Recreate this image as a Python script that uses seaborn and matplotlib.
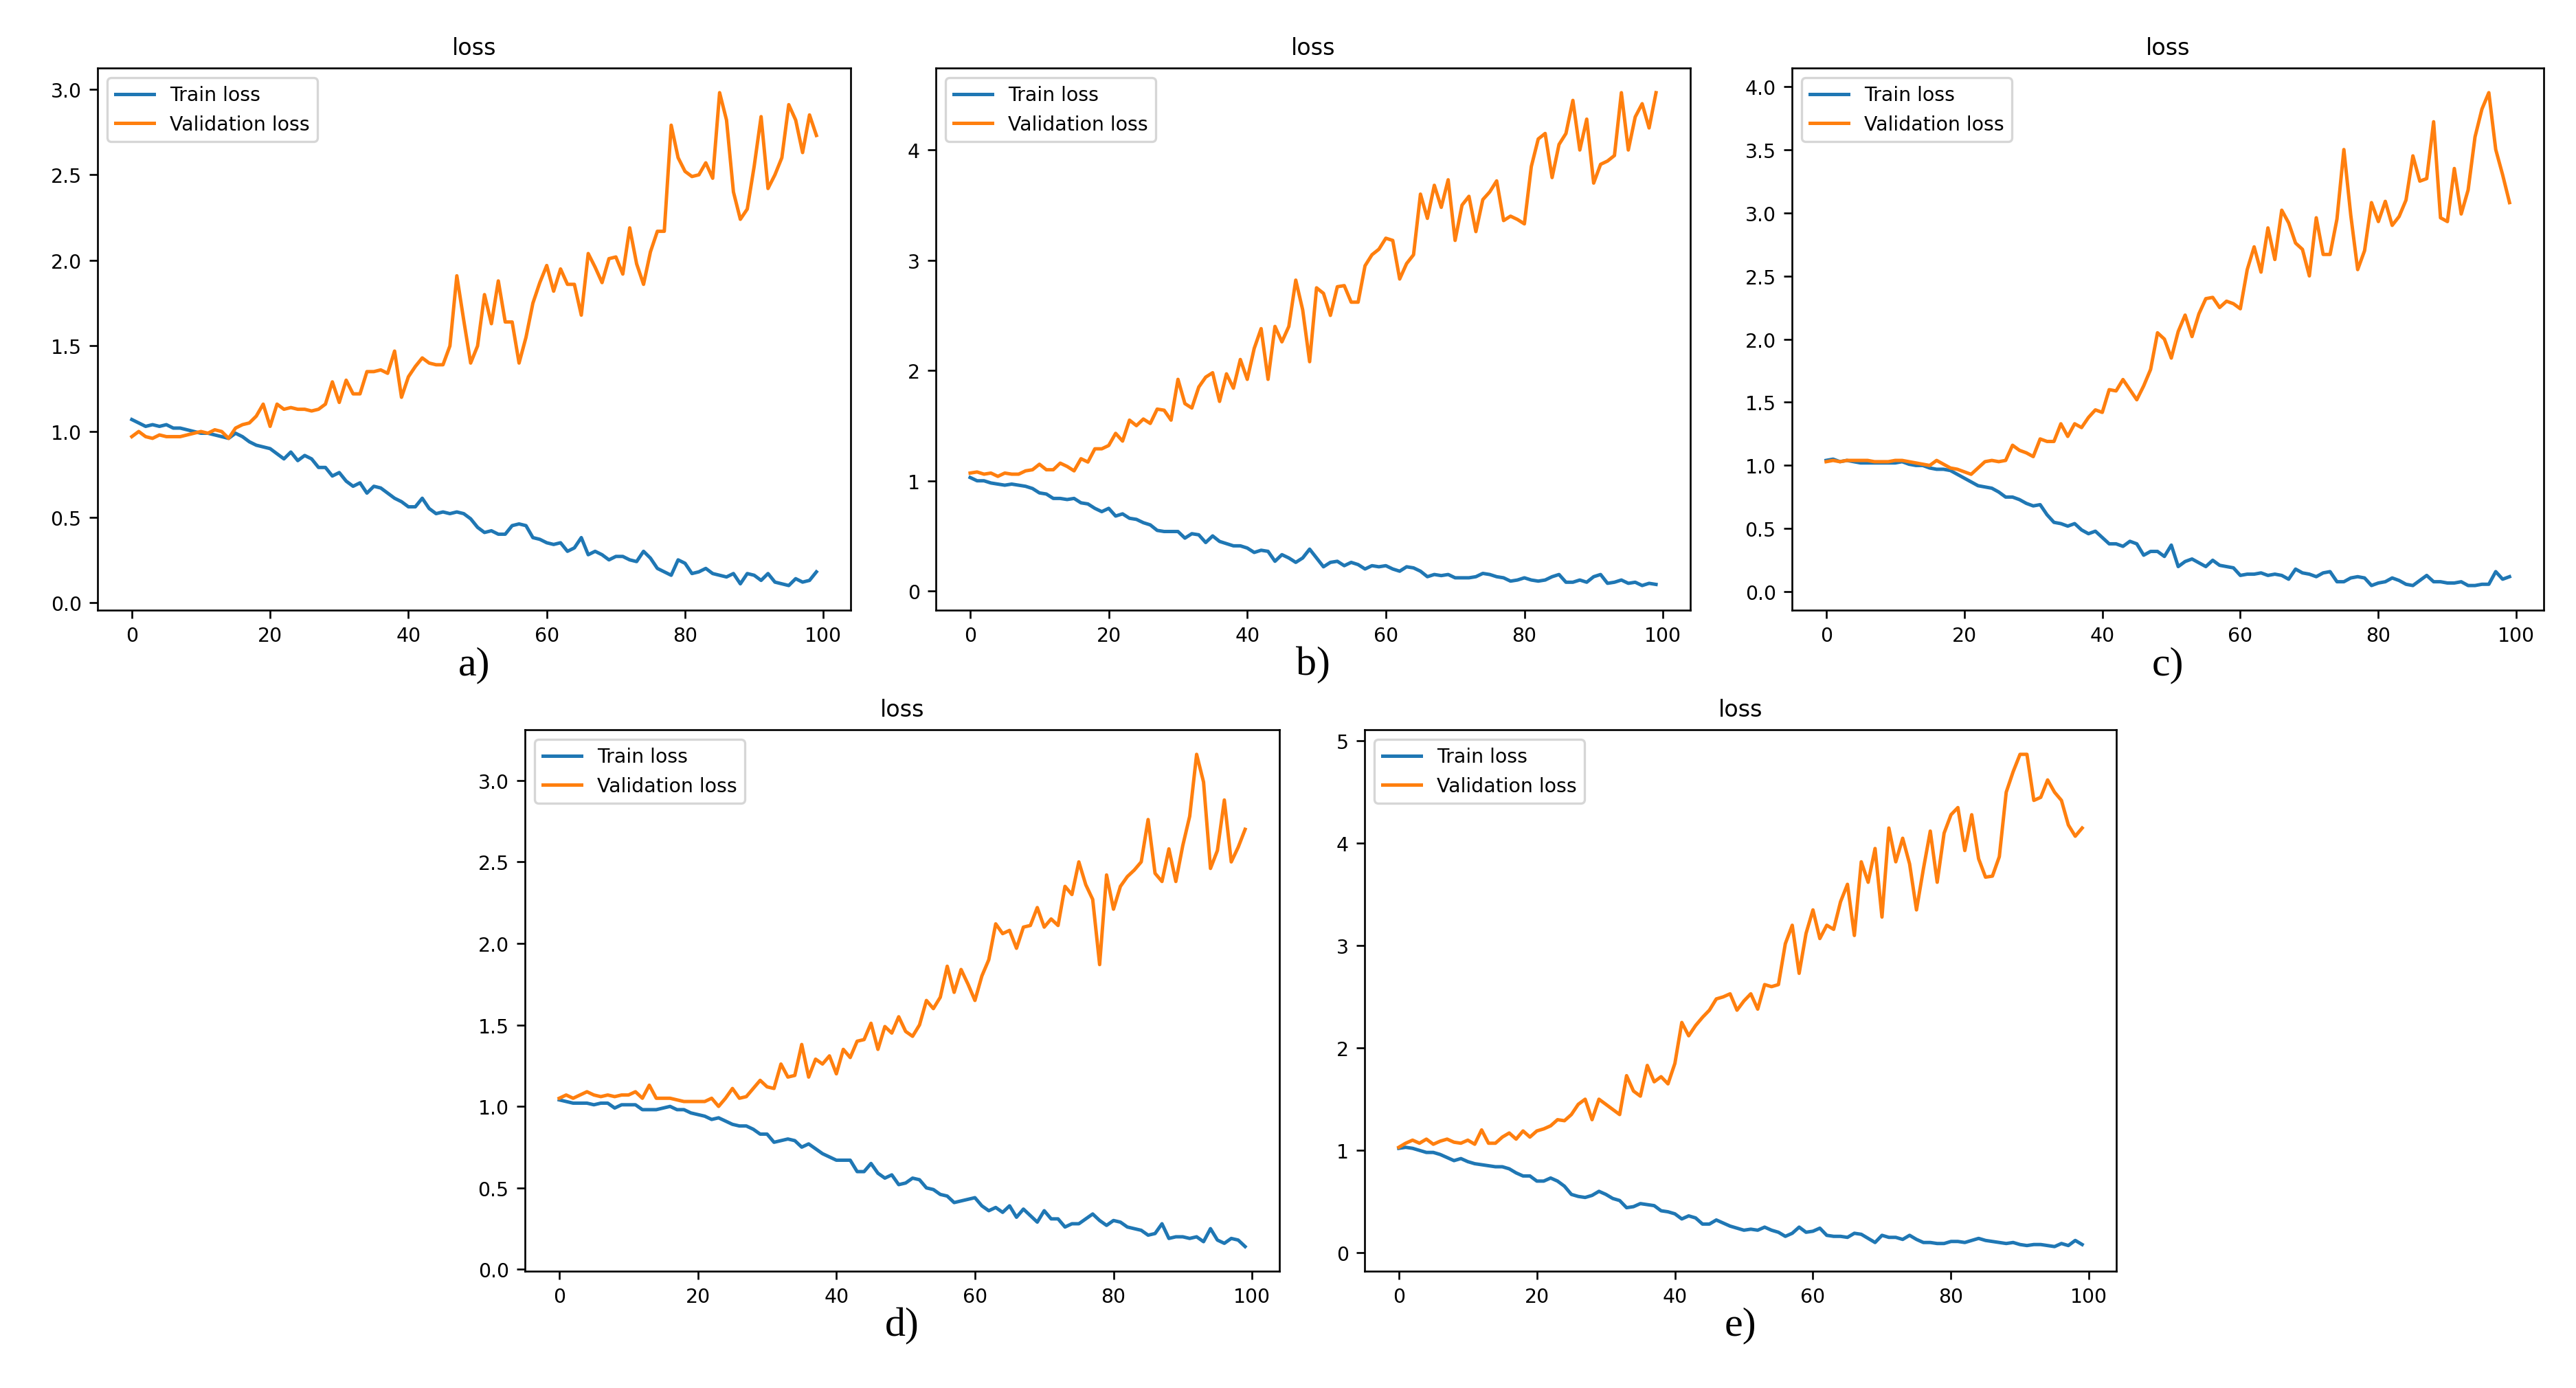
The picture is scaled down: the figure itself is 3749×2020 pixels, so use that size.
import numpy as np
import pandas as pd
import seaborn as sns
import matplotlib.pyplot as plt

# epochs 0..99 for every run
epochs = list(range(100))

# a)
train_a = [1.07, 1.05, 1.03, 1.04, 1.03, 1.04, 1.02, 1.02, 1.01, 1.00,
           0.99, 0.99, 0.98, 0.97, 0.96, 0.99, 0.97, 0.94, 0.92, 0.91,
           0.90, 0.87, 0.84, 0.88, 0.83, 0.86, 0.84, 0.79, 0.79, 0.74,
           0.76, 0.71, 0.68, 0.70, 0.64, 0.68, 0.67, 0.64, 0.61, 0.59,
           0.56, 0.56, 0.61, 0.55, 0.52, 0.53, 0.52, 0.53, 0.52, 0.49,
           0.44, 0.41, 0.42, 0.40, 0.40, 0.45, 0.46, 0.45, 0.38, 0.37,
           0.35, 0.34, 0.35, 0.30, 0.32, 0.38, 0.28, 0.30, 0.28, 0.25,
           0.27, 0.27, 0.25, 0.24, 0.30, 0.26, 0.20, 0.18, 0.16, 0.25,
           0.23, 0.17, 0.18, 0.20, 0.17, 0.16, 0.15, 0.17, 0.11, 0.17,
           0.16, 0.13, 0.17, 0.12, 0.11, 0.10, 0.14, 0.12, 0.13, 0.18]
val_a = [0.97, 1.00, 0.97, 0.96, 0.98, 0.97, 0.97, 0.97, 0.98, 0.99,
         1.00, 0.99, 1.01, 1.00, 0.96, 1.02, 1.04, 1.05, 1.09, 1.16,
         1.03, 1.16, 1.13, 1.14, 1.13, 1.13, 1.12, 1.13, 1.16, 1.29,
         1.17, 1.30, 1.22, 1.22, 1.35, 1.35, 1.36, 1.34, 1.47, 1.20,
         1.32, 1.38, 1.43, 1.40, 1.39, 1.39, 1.50, 1.91, 1.65, 1.40,
         1.50, 1.80, 1.63, 1.88, 1.64, 1.64, 1.40, 1.55, 1.75, 1.87,
         1.97, 1.82, 1.95, 1.86, 1.86, 1.68, 2.04, 1.96, 1.87, 2.01,
         2.02, 1.92, 2.19, 1.98, 1.86, 2.05, 2.17, 2.17, 2.79, 2.60,
         2.52, 2.49, 2.50, 2.57, 2.48, 2.98, 2.82, 2.40, 2.24, 2.30,
         2.55, 2.84, 2.42, 2.50, 2.60, 2.91, 2.82, 2.63, 2.85, 2.73]

# b)
train_b = [1.03, 1.00, 1.00, 0.98, 0.97, 0.96, 0.97, 0.96, 0.95, 0.93,
           0.89, 0.88, 0.84, 0.84, 0.83, 0.84, 0.80, 0.79, 0.75, 0.72,
           0.75, 0.68, 0.70, 0.66, 0.65, 0.62, 0.60, 0.55, 0.54, 0.54,
           0.54, 0.48, 0.52, 0.51, 0.44, 0.50, 0.45, 0.43, 0.41, 0.41,
           0.39, 0.35, 0.37, 0.36, 0.27, 0.33, 0.30, 0.26, 0.30, 0.38,
           0.30, 0.22, 0.26, 0.27, 0.23, 0.26, 0.24, 0.20, 0.23, 0.22,
           0.23, 0.20, 0.18, 0.22, 0.21, 0.18, 0.13, 0.15, 0.14, 0.15,
           0.12, 0.12, 0.12, 0.13, 0.16, 0.15, 0.13, 0.12, 0.09, 0.10,
           0.12, 0.10, 0.09, 0.10, 0.13, 0.15, 0.08, 0.08, 0.10, 0.08,
           0.13, 0.15, 0.07, 0.08, 0.10, 0.07, 0.08, 0.05, 0.07, 0.06]
val_b = [1.07, 1.08, 1.06, 1.07, 1.04, 1.07, 1.06, 1.06, 1.09, 1.10,
         1.15, 1.10, 1.10, 1.16, 1.13, 1.09, 1.20, 1.17, 1.29, 1.29,
         1.32, 1.43, 1.36, 1.55, 1.50, 1.56, 1.52, 1.65, 1.64, 1.55,
         1.92, 1.70, 1.66, 1.85, 1.94, 1.98, 1.72, 1.97, 1.84, 2.10,
         1.92, 2.20, 2.38, 1.92, 2.40, 2.26, 2.40, 2.82, 2.55, 2.08,
         2.75, 2.70, 2.50, 2.76, 2.77, 2.62, 2.62, 2.95, 3.05, 3.10,
         3.20, 3.18, 2.83, 2.97, 3.05, 3.60, 3.38, 3.68, 3.48, 3.73,
         3.18, 3.50, 3.58, 3.26, 3.55, 3.62, 3.72, 3.36, 3.40, 3.37,
         3.33, 3.85, 4.10, 4.15, 3.75, 4.05, 4.15, 4.45, 4.00, 4.28,
         3.70, 3.87, 3.90, 3.95, 4.52, 4.00, 4.30, 4.42, 4.20, 4.52]

# c)
train_c = [1.04, 1.05, 1.03, 1.04, 1.03, 1.02, 1.02, 1.02, 1.02, 1.02,
           1.02, 1.03, 1.01, 1.00, 1.00, 0.98, 0.97, 0.97, 0.96, 0.93,
           0.90, 0.87, 0.84, 0.83, 0.82, 0.79, 0.75, 0.75, 0.73, 0.70,
           0.68, 0.69, 0.61, 0.55, 0.54, 0.52, 0.54, 0.49, 0.46, 0.48,
           0.43, 0.38, 0.38, 0.36, 0.40, 0.38, 0.29, 0.32, 0.32, 0.28,
           0.37, 0.20, 0.24, 0.26, 0.23, 0.20, 0.25, 0.21, 0.20, 0.19,
           0.13, 0.14, 0.14, 0.15, 0.13, 0.14, 0.13, 0.10, 0.18, 0.15,
           0.14, 0.12, 0.15, 0.16, 0.08, 0.08, 0.11, 0.12, 0.11, 0.05,
           0.07, 0.08, 0.11, 0.09, 0.06, 0.05, 0.09, 0.13, 0.08, 0.08,
           0.07, 0.07, 0.08, 0.05, 0.05, 0.06, 0.06, 0.16, 0.10, 0.12]
val_c = [1.03, 1.04, 1.03, 1.04, 1.04, 1.04, 1.04, 1.03, 1.03, 1.03,
         1.04, 1.04, 1.03, 1.02, 1.01, 1.00, 1.04, 1.01, 0.98, 0.97,
         0.95, 0.93, 0.98, 1.03, 1.04, 1.03, 1.04, 1.16, 1.12, 1.10,
         1.07, 1.21, 1.19, 1.19, 1.33, 1.23, 1.33, 1.30, 1.38, 1.44,
         1.42, 1.60, 1.59, 1.68, 1.60, 1.52, 1.63, 1.76, 2.05, 2.00,
         1.85, 2.06, 2.19, 2.02, 2.20, 2.32, 2.33, 2.25, 2.30, 2.28,
         2.24, 2.55, 2.73, 2.53, 2.88, 2.63, 3.02, 2.92, 2.76, 2.71,
         2.50, 2.96, 2.67, 2.67, 2.95, 3.50, 2.98, 2.55, 2.70, 3.08,
         2.93, 3.09, 2.90, 2.97, 3.10, 3.45, 3.25, 3.27, 3.72, 2.96,
         2.93, 3.35, 2.99, 3.18, 3.60, 3.82, 3.95, 3.50, 3.30, 3.08]

# d)
train_d = [1.04, 1.03, 1.02, 1.02, 1.02, 1.01, 1.02, 1.02, 0.99, 1.01,
           1.01, 1.01, 0.98, 0.98, 0.98, 0.99, 1.00, 0.98, 0.98, 0.96,
           0.95, 0.94, 0.92, 0.93, 0.91, 0.89, 0.88, 0.88, 0.86, 0.83,
           0.83, 0.78, 0.79, 0.80, 0.79, 0.75, 0.77, 0.74, 0.71, 0.69,
           0.67, 0.67, 0.67, 0.60, 0.60, 0.65, 0.59, 0.56, 0.58, 0.52,
           0.53, 0.56, 0.55, 0.50, 0.49, 0.46, 0.45, 0.41, 0.42, 0.43,
           0.44, 0.39, 0.36, 0.38, 0.35, 0.39, 0.32, 0.37, 0.33, 0.29,
           0.36, 0.31, 0.31, 0.26, 0.28, 0.28, 0.31, 0.34, 0.30, 0.27,
           0.30, 0.29, 0.26, 0.25, 0.24, 0.21, 0.22, 0.28, 0.19, 0.20,
           0.20, 0.19, 0.20, 0.17, 0.25, 0.18, 0.16, 0.19, 0.18, 0.14]
val_d = [1.05, 1.07, 1.05, 1.07, 1.09, 1.07, 1.06, 1.07, 1.06, 1.07,
         1.07, 1.09, 1.05, 1.13, 1.05, 1.05, 1.05, 1.04, 1.03, 1.03,
         1.03, 1.03, 1.05, 1.00, 1.05, 1.11, 1.05, 1.06, 1.11, 1.16,
         1.12, 1.11, 1.26, 1.18, 1.19, 1.38, 1.18, 1.29, 1.26, 1.31,
         1.20, 1.35, 1.30, 1.40, 1.41, 1.51, 1.35, 1.49, 1.45, 1.55,
         1.46, 1.43, 1.50, 1.65, 1.60, 1.67, 1.86, 1.70, 1.84, 1.75,
         1.65, 1.80, 1.90, 2.12, 2.06, 2.08, 1.97, 2.10, 2.11, 2.22,
         2.10, 2.15, 2.11, 2.35, 2.30, 2.50, 2.36, 2.27, 1.87, 2.42,
         2.21, 2.35, 2.41, 2.45, 2.50, 2.76, 2.43, 2.38, 2.58, 2.38,
         2.60, 2.78, 3.16, 2.99, 2.46, 2.57, 2.88, 2.50, 2.59, 2.70]

# e)
train_e = [1.02, 1.03, 1.02, 1.00, 0.98, 0.98, 0.96, 0.93, 0.90, 0.92,
           0.89, 0.87, 0.86, 0.85, 0.84, 0.84, 0.82, 0.78, 0.75, 0.75,
           0.70, 0.70, 0.73, 0.70, 0.65, 0.57, 0.55, 0.54, 0.56, 0.60,
           0.57, 0.53, 0.51, 0.44, 0.45, 0.48, 0.47, 0.46, 0.41, 0.40,
           0.38, 0.33, 0.36, 0.34, 0.28, 0.28, 0.32, 0.29, 0.26, 0.24,
           0.22, 0.23, 0.22, 0.25, 0.22, 0.20, 0.16, 0.19, 0.25, 0.20,
           0.21, 0.24, 0.17, 0.16, 0.16, 0.15, 0.19, 0.18, 0.14, 0.10,
           0.17, 0.15, 0.15, 0.13, 0.17, 0.13, 0.10, 0.10, 0.09, 0.09,
           0.11, 0.11, 0.10, 0.12, 0.14, 0.12, 0.11, 0.10, 0.09, 0.10,
           0.08, 0.07, 0.08, 0.08, 0.07, 0.06, 0.09, 0.07, 0.12, 0.08]
val_e = [1.03, 1.07, 1.10, 1.07, 1.11, 1.06, 1.09, 1.11, 1.08, 1.07,
         1.10, 1.06, 1.20, 1.07, 1.07, 1.13, 1.17, 1.11, 1.19, 1.13,
         1.19, 1.21, 1.24, 1.30, 1.29, 1.35, 1.45, 1.50, 1.30, 1.50,
         1.45, 1.40, 1.35, 1.73, 1.58, 1.53, 1.83, 1.67, 1.72, 1.65,
         1.85, 2.25, 2.12, 2.22, 2.30, 2.37, 2.48, 2.50, 2.53, 2.37,
         2.46, 2.53, 2.38, 2.62, 2.60, 2.62, 3.02, 3.20, 2.73, 3.12,
         3.35, 3.07, 3.20, 3.16, 3.43, 3.60, 3.10, 3.82, 3.62, 3.95,
         3.28, 4.15, 3.82, 4.05, 3.80, 3.35, 3.75, 4.12, 3.62, 4.10,
         4.28, 4.35, 3.93, 4.28, 3.85, 3.67, 3.68, 3.87, 4.50, 4.70,
         4.87, 4.87, 4.42, 4.45, 4.62, 4.50, 4.42, 4.18, 4.07, 4.15]

captions = ["a)", "b)", "c)", "d)", "e)"]
yticks_list = [
    [0.0, 0.5, 1.0, 1.5, 2.0, 2.5, 3.0],
    [0, 1, 2, 3, 4],
    [0.0, 0.5, 1.0, 1.5, 2.0, 2.5, 3.0, 3.5, 4.0],
    [0.0, 0.5, 1.0, 1.5, 2.0, 2.5, 3.0],
    [0, 1, 2, 3, 4, 5],
]
xticks = [0, 20, 40, 60, 80, 100]
runs = [(train_a, val_a), (train_b, val_b), (train_c, val_c),
        (train_d, val_d), (train_e, val_e)]

W, H = 3749, 2021
fig = plt.figure(figsize=(W / 240, H / 240), dpi=240)

# axes boxes in pixels: left, right, top, bottom
boxes = [
    (142, 1238, 100, 889),
    (1362, 2460, 100, 889),
    (2608, 3702, 100, 889),
    (764, 1862, 1063, 1851),
    (1986, 3080, 1063, 1851),
]

for (l, r, t, b), (tr, va), cap, yt in zip(boxes, runs, captions, yticks_list):
    ax = fig.add_axes([l / W, 1 - b / H, (r - l) / W, (b - t) / H])
    df = pd.DataFrame({
        "epoch": epochs + epochs,
        "loss": tr + va,
        "series": ["Train loss"] * 100 + ["Validation loss"] * 100,
    })
    sns.lineplot(data=df, x="epoch", y="loss", hue="series",
                 palette=["#1f77b4", "#ff7f0e"], linewidth=1.5, ax=ax)
    ax.set_xlabel("")
    ax.set_ylabel("")
    ax.set_title("loss", fontsize=10)
    ax.set_xticks(xticks)
    ax.set_yticks(yt)
    ax.tick_params(labelsize=8.5)
    ax.legend(title=None, loc="upper left", fontsize=8.5)
    ax.text(0.5, -0.1, cap, transform=ax.transAxes, ha="center", va="center",
            fontsize=18, family="Liberation Serif")

fig.savefig("out.png", dpi=240)
